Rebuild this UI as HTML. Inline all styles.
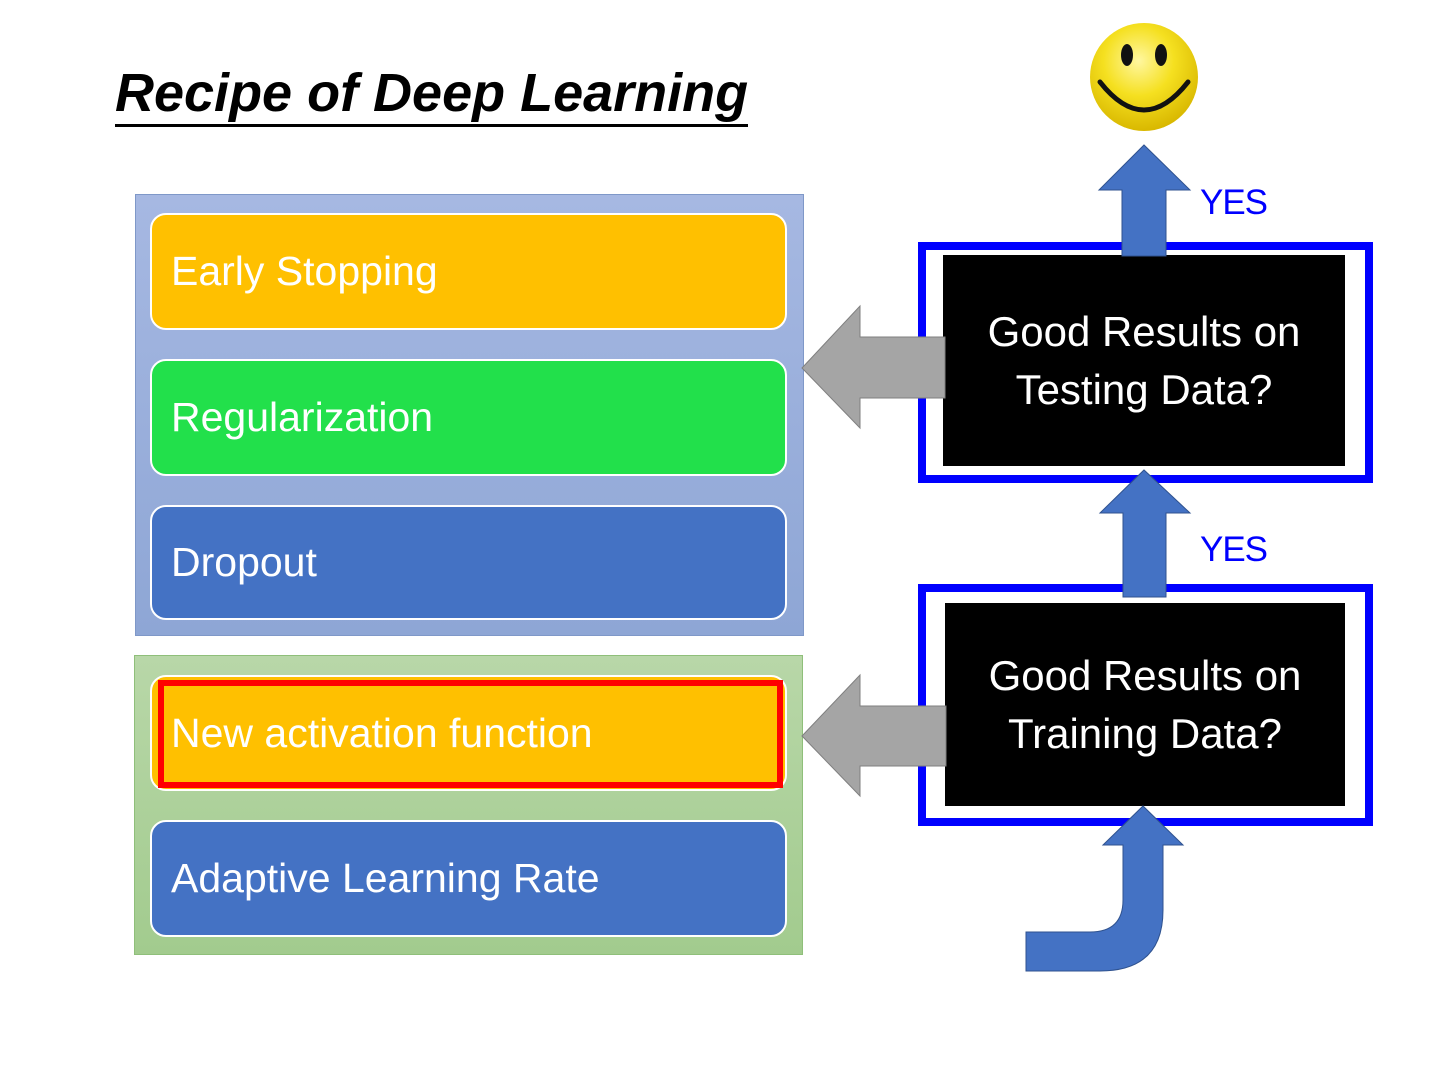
<!DOCTYPE html>
<html><head><meta charset="utf-8"><style>
body{margin:0;width:1440px;height:1080px;background:#fff;position:relative;overflow:hidden;font-family:"Liberation Sans",sans-serif}
.a{position:absolute}
.item{position:absolute;left:150px;width:637px;border:2px solid #fff;border-radius:16px;color:#fff;font-size:41px;box-sizing:border-box;display:flex;align-items:center;padding-left:19px}
.bt{position:absolute;color:#fff;font-size:42px;text-align:center;line-height:58px;display:flex;align-items:center;justify-content:center;background:#000}
</style></head><body>
<div class="a" style="left:115px;top:62px;font-size:54px;font-weight:bold;font-style:italic;line-height:62px;border-bottom:3px solid #000;letter-spacing:0px">Recipe of Deep Learning</div>

<div class="a" style="left:135px;top:194px;width:669px;height:442px;background:linear-gradient(#a6b8e2,#8ea6d5);border:1px solid #7f98c8;box-sizing:border-box"></div>
<div class="a" style="left:134px;top:655px;width:669px;height:300px;background:linear-gradient(#b8d7a8,#a2cb8e);border:1px solid #8fbf7a;box-sizing:border-box"></div>

<div class="item" style="top:213px;height:117px;background:#ffc000">Early Stopping</div>
<div class="item" style="top:359px;height:117px;background:#22e04b">Regularization</div>
<div class="item" style="top:505px;height:115px;background:#4472c4">Dropout</div>
<div class="item" style="top:675px;height:116px;background:#ffc000">New activation function</div>
<div class="a" style="left:158px;top:680px;width:625px;height:108px;border:6px solid #ff0000;box-sizing:border-box"></div>
<div class="item" style="top:820px;height:117px;background:#4472c4">Adaptive Learning Rate</div>

<div class="a" style="left:918px;top:242px;width:455px;height:241px;border:8px solid #0000ff;box-sizing:border-box"></div>
<div class="bt" style="left:943px;top:255px;width:402px;height:211px">Good Results on<br>Testing Data?</div>
<div class="a" style="left:918px;top:584px;width:455px;height:242px;border:8px solid #0000ff;box-sizing:border-box"></div>
<div class="bt" style="left:945px;top:603px;width:400px;height:203px">Good Results on<br>Training Data?</div>

<svg class="a" style="left:0;top:0" width="1440" height="1080">
<defs><radialGradient id="g" cx="45%" cy="35%" r="65%"><stop offset="0" stop-color="#fff7a0"/><stop offset="0.5" stop-color="#f5e020"/><stop offset="1" stop-color="#d9b800"/></radialGradient></defs>
<ellipse cx="1144" cy="77" rx="54" ry="54" fill="url(#g)"/>
<ellipse cx="1127" cy="55" rx="6" ry="11" fill="#111"/>
<ellipse cx="1161" cy="55" rx="6" ry="11" fill="#111"/>
<path d="M1100 82 Q1144 138 1188 82" stroke="#111" stroke-width="5" fill="none" stroke-linecap="round"/>
<polygon points="1122,256 1122,190 1099,190 1144,145 1190,190 1166,190 1166,256" fill="#4472c4" stroke="#2f528f" stroke-width="1"/>
<polygon points="1123,597 1123,513 1100,513 1144,470 1190,513 1166,513 1166,597" fill="#4472c4" stroke="#2f528f" stroke-width="1"/>
<path d="M1026,932 L1090,932 Q1123,932 1123,900 L1123,845 L1103,845 L1143,806 L1183,845 L1163,845 L1163,910 Q1163,971 1100,971 L1026,971 Z" fill="#4472c4" stroke="#2f528f" stroke-width="1"/>
<polygon points="945,337 860,337 860,306 802,368 860,428 860,398 945,398" fill="#a5a5a5" stroke="#7f7f7f" stroke-width="1"/>
<polygon points="946,706 860,706 860,675 802,736 860,796 860,766 946,766" fill="#a5a5a5" stroke="#7f7f7f" stroke-width="1"/>
<text x="1200" y="214" font-size="35" fill="#0000ff" font-family="Liberation Sans" textLength="68">YES</text>
<text x="1200" y="561" font-size="35" fill="#0000ff" font-family="Liberation Sans" textLength="68">YES</text>
</svg>
</body></html>
